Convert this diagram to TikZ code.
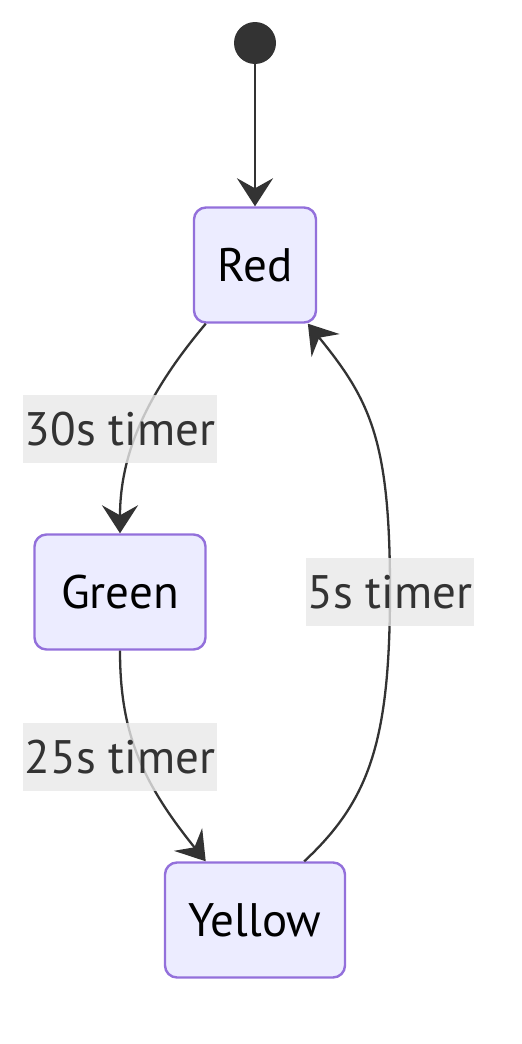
\documentclass[tikz,border=0pt]{standalone}
\usepackage{fontspec}
\setmainfont{PT Sans}
\usetikzlibrary{arrows.meta}
\definecolor{linegray}{HTML}{333333}
\definecolor{statefill}{HTML}{ECECFF}
\definecolor{stateline}{HTML}{9370DB}
\definecolor{labelfill}{HTML}{E8E8E8}
\begin{document}
\begin{tikzpicture}[x=0.5pt, y=-0.5pt,
    state/.style={draw=stateline, line width=1.2pt, fill=statefill, rounded corners=6pt,
      minimum height=57.5pt, inner xsep=0pt, font=\fontsize{23.5}{28}\selectfont, text=black},
    trans/.style={draw=linegray, line width=1.15pt,
      -{Stealth[length=14pt, width=18pt, inset=5pt, line width=1.5pt]}},
    tlabel/.style={fill=labelfill, fill opacity=0.8, text opacity=1, text=linegray,
      inner xsep=1pt, minimum height=34pt, font=\fontsize{23.5}{28}\selectfont}]
    \useasboundingbox (0,0) rectangle (522,1044);
    \node [circle, fill=linegray, minimum size=21pt, inner sep=0pt] (start) at (255,43) {};
    \node [state, minimum width=61pt] (red) at (255,265) {Red};
    \node [state, minimum width=85.5pt] (green) at (120,592) {Green};
    \node [state, minimum width=90pt] (yellow) at (255,920) {Yellow};
    \draw [trans] (start) -- (red);
    \draw [trans] (red.-130) .. controls (150,390) and (120,450) .. (green.north);
    \draw [trans] (green.south) .. controls (120,730) and (140,780) .. (yellow.130);
    \draw [trans] (yellow.50) .. controls (370,800) and (390,740) .. (390,590)
      .. controls (390,440) and (370,400) .. (red.-48);
    \node [tlabel] (l30) at (120,429) {30s timer};
    \node [tlabel] (l25) at (120,757) {25s timer};
    \node [tlabel] (l5) at (390,592) {5s timer};
  \end{tikzpicture}
\end{document}
